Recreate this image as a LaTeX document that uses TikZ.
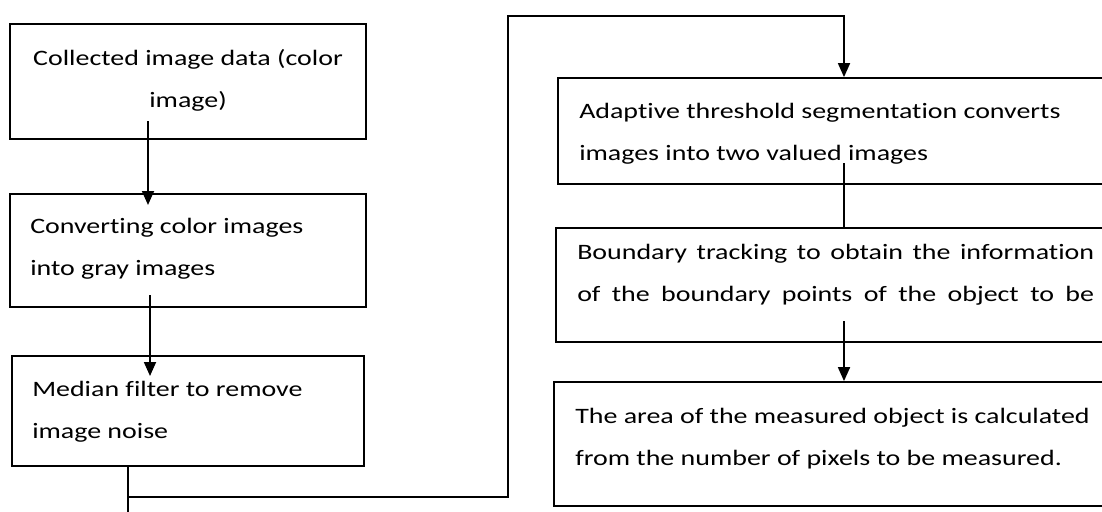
\documentclass[tikz,border=0pt]{standalone}
\usepackage{fontspec}
\setmainfont{Carlito}[Ligatures=NoCommon]
\usetikzlibrary{arrows.meta}
\tikzset{
  caja/.style={draw, line width=1.8pt, inner sep=0pt},
  texto/.style={font=\fontsize{22}{42}\selectfont, inner sep=0pt, xscale=1.27, align=left, anchor=base west},
  linea/.style={line width=1.8pt},
  flecha/.style={line width=1.8pt, -{Triangle[width=12pt,length=14pt]}}
}
\begin{document}
\begin{tikzpicture}[x=1pt,y=-1pt]
    \useasboundingbox (0,0) rectangle (1102,511);
    \clip (0,0) rectangle (1102,511);

    % Cajas
    \node[caja, minimum width=356pt, minimum height=115pt] (c1) at (188,81.5) {};
    \node[caja, minimum width=356pt, minimum height=113pt] (c2) at (188,250.5) {};
    \node[caja, minimum width=352pt, minimum height=110pt] (c3) at (188,411) {};
    \node[caja, minimum width=552pt, minimum height=106pt] (c4) at (834,131) {};
    \node[caja, minimum width=554pt, minimum height=114pt] (c5) at (833,285) {};
    \node[caja, minimum width=556pt, minimum height=124pt] (c6) at (832,444) {};

    % Textos (el ancla base va en la ultima linea)
    \node[texto, align=center, anchor=base] (t1) at (188,107) {Collected image data (color\\image)};
    \node[texto] (t2) at (30,275) {Converting color images\\into gray images};
    \node[texto] (t3) at (32,438) {Median filter to remove\\image noise};
    \node[texto] (t4) at (579,160) {Adaptive threshold segmentation converts\\images into two valued images};
    \node[texto] (t5) at (577,301) {\makebox[407pt][s]{Boundary tracking to obtain the information}\\\makebox[407pt][s]{of the boundary points of the object to be}};
    \node[texto] (t6) at (575,465) {The area of the measured object is calculated\\from the number of pixels to be measured.};

    % Puntos de las flechas
    \coordinate (p1) at (148,121);
    \coordinate (q1) at (148,205);
    \coordinate (p2) at (150,295);
    \coordinate (q2) at (150,376);
    \coordinate (s3) at (c3.south -| 128,0);
    \coordinate (b3) at (128,512);
    \coordinate (g1) at (128,497);
    \coordinate (g2) at (508,497);
    \coordinate (g3) at (508,16);
    \coordinate (g4) at (844,16);
    \coordinate (q4) at (c4.north -| 844,0);
    \coordinate (p5) at (844,163);
    \coordinate (q5) at (c5.north -| 844,0);
    \coordinate (p6) at (844,321);
    \coordinate (q6) at (c6.north -| 844,0);

    % Flechas
    \draw[flecha] (p1) -- (q1);
    \draw[flecha] (p2) -- (q2);
    \draw[linea] (s3) -- (b3);
    \draw[flecha] (g1) -- (g2) -- (g3) -- (g4) -- (q4);
    \draw[linea] (p5) -- (q5);
    \draw[flecha] (p6) -- (q6);
\end{tikzpicture}
\end{document}
